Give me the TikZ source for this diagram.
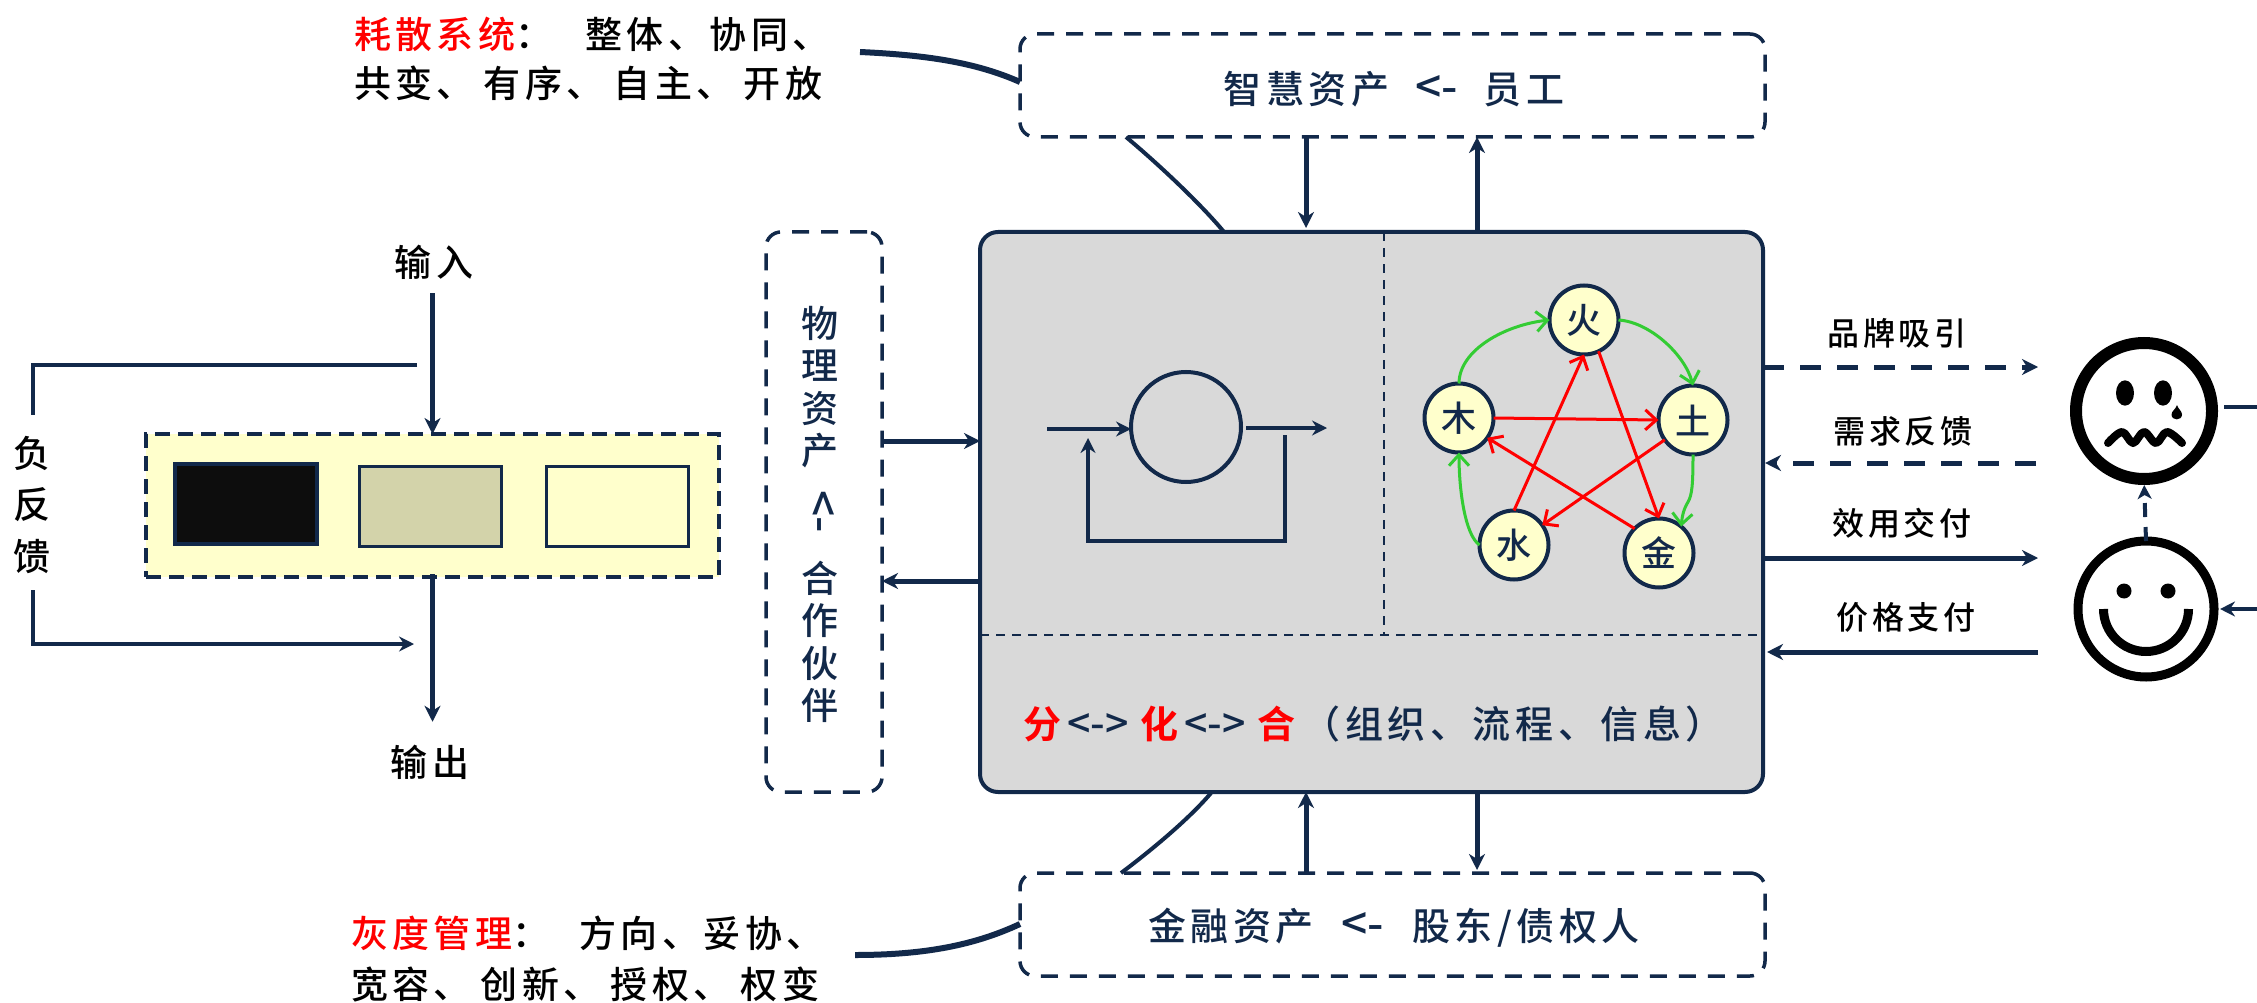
\documentclass[tikz,border=0pt]{standalone}
\usepackage{fontspec}
\usetikzlibrary{arrows.meta,calc}
\newfontfamily\cjk[LetterSpace=12]{Noto Sans CJK SC Medium}
\newfontfamily\cjkb[LetterSpace=12]{Noto Sans CJK SC Bold}
\newfontfamily\arrf{Noto Sans CJK SC Medium}
\definecolor{navy}{HTML}{12294A}
\definecolor{pale}{HTML}{FFFFCC}
\definecolor{panel}{HTML}{D9D9D9}
\definecolor{midbox}{HTML}{D3D3AA}
\definecolor{darkbox}{HTML}{0D0D0D}
\definecolor{grn}{HTML}{33CC33}
\newcommand{\tsize}[1]{\fontsize{#1}{#1}\selectfont}
\tikzset{
  txt/.style={inner sep=0pt,outer sep=0pt,font=\cjk\tsize{37},text=black},
  vtxt/.style={txt,align=center,font=\cjk\fontsize{37}{42.5}\selectfont},
  lbl/.style={inner sep=0pt,outer sep=0pt,font=\cjk\tsize{32},text=black},
  el/.style={circle,draw=navy,line width=4pt,fill=pale,minimum size=69pt,inner sep=0pt,outer sep=0pt,text=navy,font=\cjk\tsize{35}},
  assetbox/.style={draw=navy,line width=3.5pt,dash pattern=on 17pt off 12pt,rounded corners=15pt,fill=white,inner sep=0pt,outer sep=0pt},
  arr/.style={draw=navy,line width=5pt,-{Stealth[length=16pt,width=16pt,inset=5pt]}},
  thin/.style={draw=navy,line width=4pt,-{Stealth[length=15pt,width=15pt,inset=5pt]}},
  plain/.style={draw=navy,line width=4pt},
  darr/.style={arr,dash pattern=on 21pt off 16pt},
  barbg/.style={draw=grn,line width=3pt,-{Straight Barb[length=11pt,width=20pt]}},
  barbr/.style={draw=red,line width=3pt,-{Straight Barb[length=11pt,width=20pt]}},
  inner/.style={rectangle,minimum width=142pt,minimum height=80pt,draw=navy,inner sep=0pt,outer sep=0pt},
  face/.style={circle,draw=black,fill=white,minimum size=136pt,inner sep=0pt,outer sep=0pt}
}
\begin{document}
\begin{tikzpicture}[x=1pt,y=-1pt]
\useasboundingbox (0,0) rectangle (2257,1003);
\fill[white] (0,0) rectangle (2257,1003);

% curved links, behind the boxes
\coordinate (ct1) at (860,52);
\coordinate (cb1) at (855,955);

% main panel
\node[draw=navy,fill=panel,line width=4pt,rounded corners=18pt,minimum width=783pt,minimum height=560pt,inner sep=0pt,outer sep=0pt] (main) at (1371.5,512) {};
\coordinate (vd) at (1384,0);
\coordinate (hd) at (0,635);
\draw[navy,line width=2.5pt,dash pattern=on 9pt off 7pt] (main.north -| vd) -- (vd |- hd);
\draw[navy,line width=2.5pt,dash pattern=on 9pt off 7pt] (main.west |- hd) -- (main.east |- hd);

% asset boxes
\node[assetbox,minimum width=745pt,minimum height=103pt] (topbox) at (1392.5,85.5) {};
\node[assetbox,minimum width=745pt,minimum height=103pt] (botbox) at (1392.5,924.5) {};
\node[assetbox,minimum width=116pt,minimum height=560pt] (leftbox) at (824,512) {};
\node[txt,text=navy,font=\cjk\tsize{38}] (toptxt) at (1394,89) {智慧资产\hspace{26pt}{\arrf\tsize{46}<-}\hspace{26pt}员工};
\node[txt,text=navy,font=\cjk\tsize{38}] (bottxt) at (1394,928) {金融资产\hspace{28pt}{\arrf\tsize{46}<-}\hspace{28pt}股东/债权人};
\node[vtxt,text=navy] (phys) at (820,387) {物\\理\\资\\产};
\node[txt,text=navy,rotate=-90,font=\arrf\tsize{46}] (physarr) at (820,512) {<-};
\node[vtxt,text=navy] (part) at (820,642) {合\\作\\伙\\伴};

% curved lines
\draw[navy,line width=6pt] (ct1) .. controls (925,55) and (975,62) .. (topbox.west |- 0,82);
\draw[navy,line width=4pt] (1126,137) .. controls (1156,162) and (1200,203) .. (1224,232);
\draw[navy,line width=6pt] (cb1) .. controls (925,955) and (975,945) .. (botbox.west |- 0,924);
\draw[navy,line width=4pt] (1121,873) .. controls (1151,850.5) and (1189,819) .. (1211,793);

% arrows among boxes
\coordinate (a1) at (1306,0);
\coordinate (a2) at (1477,0);
\draw[arr,shorten >=4pt] (topbox.south -| a1) -- (main.north -| a1);
\draw[arr] (main.north -| a2) -- (topbox.south -| a2);
\draw[arr] (botbox.north -| a1) -- (main.south -| a1);
\draw[arr,shorten >=3pt] (main.south -| a2) -- (botbox.north -| a2);
\coordinate (b1) at (0,441);
\coordinate (b2) at (0,581);
\draw[arr] (leftbox.east |- b1) -- (main.west |- b1);
\draw[arr] (main.west |- b2) -- (leftbox.east |- b2);

% inner loop
\node[circle,draw=navy,line width=4pt,minimum size=110pt,inner sep=0pt,outer sep=0pt] (loop) at (1186,427) {};
\coordinate (lin) at (1047,429);
\coordinate (lout) at (1327,428);
\coordinate (lfs) at (1285,435);
\coordinate (lfe) at (1088,438);
\draw[thin] (lin) -- (loop.west |- lin);
\draw[thin] ([xshift=5pt]loop.east |- lout) -- (lout);
\draw[thin] (lfs) -- (1285,541) -- (1088,541) -- (lfe);

% five elements
\node[el] (huo) at (1584,320) {火};
\node[el] (mu) at (1459,418) {木};
\node[el] (tu) at (1693,420) {土};
\node[el] (shui) at (1514,545) {水};
\node[el] (jin) at (1659,553) {金};
\draw[barbg] (mu.north) .. controls (1459,350) and (1505,325) .. (huo.west);
\draw[barbg] (huo.east) .. controls (1650,322) and (1685,355) .. (tu.north);
\draw[barbg] (tu.south) .. controls (1693,485) and (1692,495) .. (1688,502) .. controls (1683,510) and (1682,518) .. (jin.50);
\draw[barbg] (shui.west) .. controls (1465,535) and (1459,490) .. (mu.south);
\draw[barbr] (mu.east) -- (tu.west);
\draw[barbr] (shui.north) -- (huo.south);
\draw[barbr] (huo.-65) -- (jin.north);
\draw[barbr] (tu.-145) -- (shui.35);
\draw[barbr] (jin.135) -- (mu.-35);

% formula in the panel
\node[txt,text=navy,anchor=west,font=\cjk\tsize{38}] (formula) at (1023,724) {{\cjkb\color{red}分}\hspace{6pt}{\arrf\tsize{41}<->}\hspace{12pt}{\cjkb\color{red}化}\hspace{6pt}{\arrf\tsize{41}<->}\hspace{12pt}{\cjkb\color{red}合}\hspace{7pt}（组织、流程、信息）};

% callouts
\node[txt,anchor=west] (c1a) at (354,34) {\textcolor{red}{耗散系统}：\hspace{33pt}整体、协同、};
\node[txt,anchor=west] (c1b) at (354,83) {共变、\hspace{10pt}有序、\hspace{10pt}自主、\hspace{10pt}开放};
\node[txt,anchor=west] (c2a) at (351,933) {\textcolor{red}{灰度管理}：\hspace{30pt}方向、妥协、};
\node[txt,anchor=west] (c2b) at (351,984) {宽容、\hspace{10pt}创新、\hspace{10pt}授权、\hspace{10pt}权变};

% left system
\node[draw=navy,fill=pale,line width=3.5pt,dash pattern=on 15pt off 8pt,minimum width=573pt,minimum height=143pt,inner sep=0pt,outer sep=0pt] (sys) at (432.5,505.5) {};
\node[inner,fill=darkbox,line width=4pt] (r1) at (245.5,504) {};
\node[inner,fill=midbox,line width=3pt] (r2) at (430,506) {};
\node[inner,fill=pale,line width=3pt] (r3) at (617.5,506) {};
\node[txt] (inp) at (434,262) {输入};
\node[txt] (outp) at (430,762) {输出};
\node[vtxt] (fb) at (32,505) {负\\[9pt]反\\[9pt]馈};
\draw[arr] (inp.south -| sys.north) ++(0,14) -- (sys.north);
\draw[arr,shorten >=23pt] ([yshift=3pt]sys.south) -- (sys.south |- outp.north);
\coordinate (f1) at (417,365);
\coordinate (f2) at (414,644);
\draw[plain] (f1) -- (33,365) -- (33,415);
\draw[thin] (33,590) -- (33,644) -- (f2);

% right labels and arrows
\coordinate (e1) at (2038,367);
\coordinate (e2) at (2036,463);
\coordinate (e3) at (2038,558);
\coordinate (e4) at (2038,652);
\draw[darr] (main.east |- e1) -- (e1);
\draw[darr,shorten >=2pt] (e2) -- (main.east |- e2);
\draw[arr] (main.east |- e3) -- (e3);
\draw[arr,shorten >=4pt] (e4) -- (main.east |- e4);
\node[lbl] (l1) at (1897,333) {品牌吸引};
\node[lbl] (l2) at (1903,431) {需求反馈};
\node[lbl] (l3) at (1902,523) {效用交付};
\node[lbl] (l4) at (1906,617) {价格支付};

% sad face
\node[face,line width=12pt] (sad) at (2144,411) {};
\fill (2125,393) ellipse[x radius=9pt,y radius=12.7pt];
\fill (2163,393) ellipse[x radius=9pt,y radius=12.7pt];
\fill (2177,405) .. controls (2176,409) and (2171.5,411) .. (2171.5,414.5) .. controls (2171.5,421) and (2182,421) .. (2182,414.5) .. controls (2182,411) and (2178,409) .. cycle;
\draw[black,line width=8pt,line cap=round,line join=round] plot[smooth,tension=0.6] coordinates {(2108,443) (2122,432) (2133,443) (2144,432) (2156,443) (2167,432) (2182,443)};

% happy face
\node[face,line width=9pt] (happy) at (2146,609) {};
\fill (2124,591) circle[radius=7.5pt];
\fill (2168,591) circle[radius=7.5pt];
\draw[black,line width=9pt] (2103.5,609) arc[start angle=180,end angle=360,radius=42.5pt];

\draw[arr,line width=4pt,dash pattern=on 14pt off 10pt,shorten >=6pt,-{Stealth[length=14pt,width=14pt,inset=4pt]}] (happy.north) -- (sad.south);
\coordinate (rs) at (2257,407);
\coordinate (rh) at (2257,609);
\draw[plain] (2224,407) -- (rs);
\draw[thin,shorten >=6pt] (rh) -- (happy.east |- rh);
\end{tikzpicture}
\end{document}
